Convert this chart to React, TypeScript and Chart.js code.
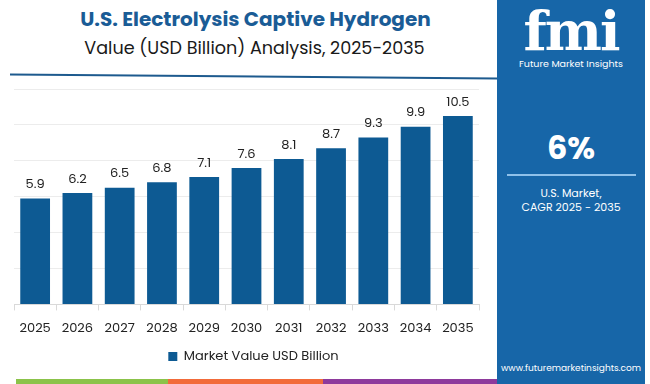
import React, { useEffect, useRef } from "react";
import { Chart, registerables } from "chart.js";

Chart.register(...registerables);

const categories = ["2025", "2026", "2027", "2028", "2029", "2030", "2031", "2032", "2033", "2034", "2035"];
const values = [5.9, 6.2, 6.5, 6.8, 7.1, 7.6, 8.1, 8.7, 9.3, 9.9, 10.5];
const seriesLabel = "Market Value USD Billion";
const titleLine1 = "U.S. Electrolysis Captive Hydrogen";
const titleLine2 = "Value (USD Billion) Analysis, 2025-2035";
const cagrValue = "6%";
const cagrLine1 = "U.S. Market,";
const cagrLine2 = "CAGR 2025 - 2035";

const FONT = "Poppins, Inter, 'Noto Sans', sans-serif";
const BAR = "#0d5a93";

const valueLabels = {
  id: "valueLabels",
  afterDatasetsDraw(chart: any) {
    const ctx = chart.ctx;
    const meta = chart.getDatasetMeta(0);
    ctx.save();
    ctx.font = `13px ${FONT}`;
    ctx.fillStyle = "#222";
    ctx.textAlign = "center";
    ctx.textBaseline = "bottom";
    meta.data.forEach((el: any, i: number) => {
      ctx.fillText(String(values[i]), el.x, el.y - 7);
    });
    ctx.restore();
  },
};

const legendShift = {
  id: "legendShift",
  afterLayout(chart: any) {
    if (chart.legend) {
      chart.legend.left += 7;
      chart.legend.right += 7;
    }
  },
};

export default function App() {
  const ref = useRef<HTMLCanvasElement>(null);
  useEffect(() => {
    document.body.style.margin = "0";
    const chart = new Chart(ref.current!, {
      type: "bar",
      data: {
        labels: categories,
        datasets: [
          {
            label: seriesLabel,
            data: values,
            backgroundColor: BAR,
            categoryPercentage: 0.8,
            barPercentage: 0.88,
          },
        ],
      },
      options: {
        animation: false,
        responsive: false,
        maintainAspectRatio: false,
        layout: { padding: { left: 14, right: 18, top: 9, bottom: 7 } },
        plugins: {
          legend: {
            position: "bottom",
            labels: {
              boxWidth: 9,
              boxHeight: 9,
              padding: 2,
              color: "#222",
              font: { family: FONT, size: 13 },
            },
          },
          tooltip: { enabled: false },
        },
        scales: {
          x: {
            grid: { display: true, drawOnChartArea: false, color: "#d9d9d9", tickLength: 6 },
            border: { color: "#d9d9d9" },
            ticks: { color: "#222", font: { family: FONT, size: 13 }, padding: 11 },
          },
          y: {
            min: 0,
            max: 12,
            ticks: { display: false, stepSize: 2 },
            grid: { color: "#ececec", drawTicks: false },
            border: { display: false },
          },
        },
      },
      plugins: [valueLabels, legendShift],
    });
    return () => chart.destroy();
  }, []);

  return (
    <div style={{ position: "fixed", left: 0, top: 0, width: 650, height: 384, background: "#fff", overflow: "hidden", fontFamily: FONT }}>
      <div style={{ position: "absolute", left: 7, width: 497, top: 5, textAlign: "center", color: "#1a5c96", fontWeight: 700, fontSize: 20, lineHeight: "28px" }}>
        {titleLine1}
      </div>
      <div style={{ position: "absolute", left: 6, width: 497, top: 35, textAlign: "center", color: "#1a1a1a", fontSize: 17.6, lineHeight: "26px" }}>
        {titleLine2}
      </div>
      <svg style={{ position: "absolute", left: 0, top: 70, width: 500, height: 12 }}>
        <line x1={10} y1={4.5} x2={497} y2={8.5} stroke="#1d5a8e" strokeWidth={2} />
      </svg>
      <canvas ref={ref} width={497} height={300} style={{ position: "absolute", left: 0, top: 80, width: 497, height: 300 }} />
      <div style={{ position: "absolute", top: 379, height: 5, left: 16, width: 152, background: "#8bc34a" }} />
      <div style={{ position: "absolute", top: 379, height: 5, left: 168, width: 155, background: "#f26b3a" }} />
      <div style={{ position: "absolute", top: 379, height: 5, left: 323, width: 176, background: "#8e3a9c" }} />
      <div style={{ position: "absolute", left: 497, top: 0, width: 148, height: 384, background: "#1766a8", color: "#fff", textAlign: "center" }}>
        <div style={{ position: "absolute", left: 0, width: 148, top: 4, fontSize: 54, fontWeight: 700, lineHeight: "54px", letterSpacing: -2, fontFamily: "'DejaVu Serif', serif" }}>fmi</div>
        <div style={{ position: "absolute", left: 0, width: 148, top: 57, fontSize: 9.5, lineHeight: "14px" }}>Future Market Insights</div>
        <div style={{ position: "absolute", left: 0, width: 148, top: 130, fontSize: 32, fontWeight: 700, lineHeight: "36px" }}>{cagrValue}</div>
        <div style={{ position: "absolute", left: 10, width: 129, top: 174, height: 2, background: "#8fc1ea" }} />
        <div style={{ position: "absolute", left: 0, width: 148, top: 186, fontSize: 11, lineHeight: "14px" }}>
          {cagrLine1}
          <br />
          {cagrLine2}
        </div>
        <div style={{ position: "absolute", left: 0, width: 148, top: 361, fontSize: 9, lineHeight: "14px" }}>www.futuremarketinsights.com</div>
      </div>
    </div>
  );
}
